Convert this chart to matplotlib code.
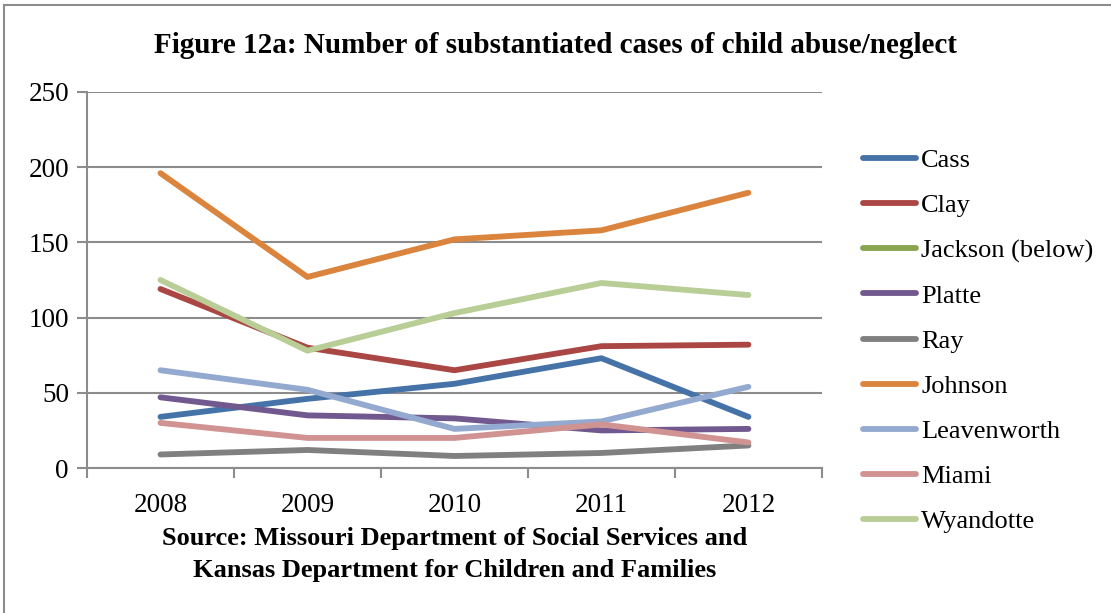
import numpy as np
import matplotlib.pyplot as plt
from matplotlib.lines import Line2D
from matplotlib.patches import Rectangle

years = ["2008", "2009", "2010", "2011", "2012"]

cass = [34, 46, 56, 73, 34]
clay = [119, 80, 65, 81, 82]
jackson = [np.nan] * 5  # plotted separately, legend entry only
platte = [47, 35, 33, 25, 26]
ray = [9, 12, 8, 10, 15]
johnson = [196, 127, 152, 158, 183]
leavenworth = [65, 52, 26, 31, 54]
miami = [30, 20, 20, 29, 17]
wyandotte = [125, 78, 103, 123, 115]

series = [
    ("Cass", cass, "#4573a7"),
    ("Clay", clay, "#aa4643"),
    ("Jackson (below)", jackson, "#89a54e"),
    ("Platte", platte, "#71588f"),
    ("Ray", ray, "#808080"),
    ("Johnson", johnson, "#db843d"),
    ("Leavenworth", leavenworth, "#93a9cf"),
    ("Miami", miami, "#d19392"),
    ("Wyandotte", wyandotte, "#b9cd96"),
]

plt.rcParams["font.family"] = ["Liberation Serif", "DejaVu Serif"]

fig = plt.figure(figsize=(11.11, 6.13), dpi=100)
ax = fig.add_axes([0.0783, 0.2365, 0.6615, 0.6135])

x = np.arange(len(years))
handles = []
for name, vals, color in series:
    ax.plot(x, vals, color=color, lw=4.2, solid_capstyle="round",
            solid_joinstyle="round")
    handles.append(Line2D([], [], color=color, lw=4.2, solid_capstyle="round",
                          label=name))

ax.set_xlim(-0.5, len(years) - 0.5)
ax.set_ylim(0, 250)
ax.set_yticks(range(0, 251, 50))
ax.yaxis.grid(True, color="#8c8c8c", lw=1.5)
ax.set_axisbelow(True)

ax.set_xticks(x)
ax.set_xticklabels(years)
ax.set_xticks(np.arange(-0.5, len(years), 1.0), minor=True)
ax.tick_params(axis="x", which="major", length=0, pad=18, labelsize=19.5)
ax.tick_params(axis="x", which="minor", length=7, width=1.5, color="#8c8c8c")
ax.tick_params(axis="y", length=7, width=1.5, color="#8c8c8c", pad=6,
               labelsize=19.5)

for side in ["top", "right"]:
    ax.spines[side].set_visible(False)
for side in ["left", "bottom"]:
    ax.spines[side].set_color("#8c8c8c")
    ax.spines[side].set_linewidth(1.5)

fig.legend(handles=handles, loc="upper left", bbox_to_anchor=(0.7675, 0.775),
           frameon=False, fontsize=19, handlelength=2.0, handletextpad=0.2,
           labelspacing=0.82, borderaxespad=0)

fig.text(0.5, 0.925, "Figure 12a: Number of substantiated cases of child abuse/neglect",
         ha="center", va="center", fontsize=21, fontweight="bold")
fig.text(0.409, 0.121, "Source: Missouri Department of Social Services and",
         ha="center", va="center", fontsize=19, fontweight="bold")
fig.text(0.409, 0.069, "Kansas Department for Children and Families",
         ha="center", va="center", fontsize=19, fontweight="bold")

# outer chart frame
fig.patches.append(Rectangle((0.0036, -0.1), 1.2, 1.092, transform=fig.transFigure,
                             fill=False, edgecolor="#8c8c8c", lw=1.5))

fig.savefig("out.png", dpi=100)
